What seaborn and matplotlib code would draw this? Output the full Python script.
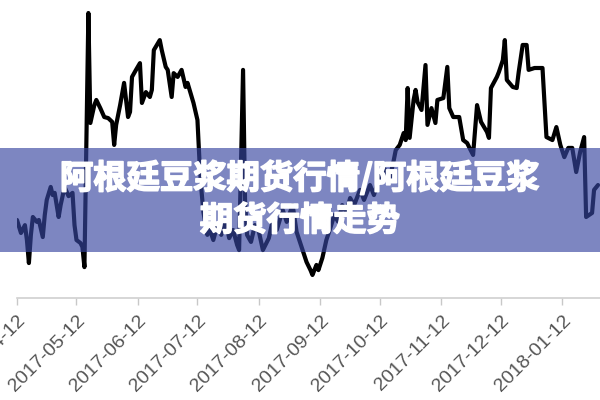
import pandas as pd
import matplotlib
matplotlib.use("Agg")
import matplotlib.pyplot as plt
import matplotlib.dates as mdates
import matplotlib.patches as mpatches
import matplotlib.patheffects as pe
import seaborn as sns

# daily quotes (arbitrary price unit)
dates = [
    "2017-04-12", "2017-04-14", "2017-04-16", "2017-04-17", "2017-04-18", "2017-04-19", "2017-04-20",
    "2017-04-22", "2017-04-23", "2017-04-25", "2017-04-26", "2017-04-27", "2017-04-29", "2017-04-30",
    "2017-05-01", "2017-05-03", "2017-05-04", "2017-05-06", "2017-05-08", "2017-05-10", "2017-05-11",
    "2017-05-12", "2017-05-14", "2017-05-15", "2017-05-16", "2017-05-18", "2017-05-19", "2017-05-21",
    "2017-05-22", "2017-05-24", "2017-05-26", "2017-05-28", "2017-05-30", "2017-05-31",
    "2017-06-01", "2017-06-03", "2017-06-05", "2017-06-07", "2017-06-08", "2017-06-09", "2017-06-11",
    "2017-06-13", "2017-06-14", "2017-06-16", "2017-06-18", "2017-06-19", "2017-06-20", "2017-06-23",
    "2017-06-24", "2017-06-26", "2017-06-27", "2017-06-29", "2017-06-30",
    "2017-07-02", "2017-07-04", "2017-07-06", "2017-07-07", "2017-07-10", "2017-07-12", "2017-07-13",
    "2017-07-14", "2017-07-15", "2017-07-17", "2017-07-18", "2017-07-20", "2017-07-22", "2017-07-24",
    "2017-07-26", "2017-07-28", "2017-07-30",
    "2017-08-01", "2017-08-02", "2017-08-04", "2017-08-05", "2017-08-06", "2017-08-08", "2017-08-10",
    "2017-08-12", "2017-08-14", "2017-08-17", "2017-08-19", "2017-08-21", "2017-08-24", "2017-08-26",
    "2017-08-29", "2017-08-31",
    "2017-09-03", "2017-09-05", "2017-09-07", "2017-09-08", "2017-09-10", "2017-09-11", "2017-09-13",
    "2017-09-15", "2017-09-17", "2017-09-19", "2017-09-21", "2017-09-23", "2017-09-25", "2017-09-27",
    "2017-09-29",
    "2017-10-02", "2017-10-04", "2017-10-07", "2017-10-09", "2017-10-12", "2017-10-14", "2017-10-17",
    "2017-10-19", "2017-10-20", "2017-10-22", "2017-10-24", "2017-10-25", "2017-10-26", "2017-10-27",
    "2017-10-29", "2017-10-30", "2017-10-31",
    "2017-11-02", "2017-11-04", "2017-11-05", "2017-11-07", "2017-11-09", "2017-11-10", "2017-11-13",
    "2017-11-15", "2017-11-16", "2017-11-18", "2017-11-21", "2017-11-23", "2017-11-25", "2017-11-26",
    "2017-11-28", "2017-11-30",
    "2017-12-02", "2017-12-05", "2017-12-06", "2017-12-07", "2017-12-10", "2017-12-11", "2017-12-13",
    "2017-12-14", "2017-12-15", "2017-12-18", "2017-12-20", "2017-12-21", "2017-12-23", "2017-12-25",
    "2017-12-26", "2017-12-29",
    "2018-01-02", "2018-01-04", "2018-01-07", "2018-01-09", "2018-01-11", "2018-01-13", "2018-01-15",
    "2018-01-17", "2018-01-19", "2018-01-21", "2018-01-23", "2018-01-24", "2018-01-27", "2018-01-28",
    "2018-01-30",
]

prices = [
    318.8, 314.0, 316.9, 311.4, 302.9, 313.3, 319.9,
    318.1, 318.8, 312.5, 320.6, 326.2, 331.0, 328.0,
    328.8, 319.9, 324.3, 331.0, 327.6, 328.8, 316.9,
    311.4, 310.3, 308.8, 301.4, 395.2, 354.6, 361.2,
    363.1, 360.1, 356.8, 356.4, 355.0, 346.5,
    353.9, 361.2, 369.4, 356.8, 358.7, 371.6, 374.2,
    376.7, 362.0, 366.0, 364.2, 366.8, 381.5, 385.2,
    381.5, 375.3, 374.2, 364.2, 373.0,
    371.6, 374.2, 367.9, 369.4, 362.0, 355.7, 340.9,
    329.9, 321.7, 313.3, 315.8, 311.4, 316.9, 313.3,
    318.8, 312.1, 315.1,
    309.6, 307.7, 374.2, 326.2, 313.3, 310.7, 316.9,
    314.4, 307.7, 312.1, 318.8, 315.1, 322.5, 318.1,
    324.3, 314.4,
    307.7, 303.3, 300.3, 298.5, 302.2, 300.3, 304.8,
    311.4, 315.8, 320.6, 318.1, 324.3, 321.7, 326.9,
    324.3,
    329.9, 326.2, 331.7, 328.0, 335.4, 338.0, 334.3,
    340.9, 344.6, 346.5, 350.9, 348.3, 367.5, 349.1,
    363.1, 366.8, 362.3,
    359.4, 376.0, 353.9, 360.1, 354.6, 363.1, 363.8,
    375.3, 360.1, 356.8, 356.8, 348.3, 347.2, 345.7,
    342.8, 361.2,
    355.0, 351.3, 349.1, 367.5, 371.6, 373.4, 377.8,
    385.2, 370.5, 367.9, 367.5, 373.4, 383.4, 383.4,
    374.2, 374.9,
    374.9, 349.4, 348.3, 353.1, 346.5, 342.0, 345.4,
    345.4, 336.5, 343.9, 349.4, 319.9, 321.4, 329.9,
    331.7,
]

title_line1 = "阿根廷豆浆期货行情/阿根廷豆浆"
title_line2 = "期货行情走势"

sns.set_style("white")
plt.rcParams["font.family"] = ["Noto Sans CJK SC", "DejaVu Sans"]

df = pd.DataFrame({"date": pd.to_datetime(dates), "price": prices})

fig = plt.figure(figsize=(6, 4), dpi=100)
ax = fig.add_axes([17 / 600, 0.255, 1 - 17 / 600, 0.745])

sns.lineplot(data=df, x="date", y="price", color="black", linewidth=3.0, ax=ax)

ax.set_xlim(pd.Timestamp("2017-04-12"), pd.Timestamp("2018-01-31"))
ax.set_ylim(290, 400)
ax.set_xlabel("")
ax.set_ylabel("")
ax.set_yticks([])

ax.xaxis.set_major_locator(mdates.MonthLocator(bymonthday=12))
ax.xaxis.set_major_formatter(mdates.DateFormatter("%Y-%m-%d"))
ax.tick_params(axis="x", bottom=True, length=5, width=1, color="#c8c8c8",
               pad=5, labelsize=14, labelcolor="#555555")
for lab in ax.get_xticklabels():
    lab.set_rotation(45)
    lab.set_ha("right")
    lab.set_va("top")
    lab.set_rotation_mode("anchor")
    lab.set_family(["Liberation Sans", "DejaVu Sans"])

for side in ["left", "right", "top"]:
    ax.spines[side].set_visible(False)
ax.spines["bottom"].set_color("#d0d0d0")
ax.spines["bottom"].set_linewidth(1.2)

# translucent title banner across the middle
banner = mpatches.Rectangle((0, 0.37), 1, 0.26, transform=fig.transFigure,
                            facecolor=(55 / 255, 70 / 255, 160 / 255), alpha=0.65,
                            edgecolor="none", zorder=5)
fig.add_artist(banner)
heavy = [pe.withStroke(linewidth=1.2, foreground="white")]
fig.text(0.5, 0.555, title_line1, ha="center", va="center", color="white",
         fontsize=24, fontweight="bold", zorder=6, path_effects=heavy)
fig.text(0.5, 0.4475, title_line2, ha="center", va="center", color="white",
         fontsize=24, fontweight="bold", zorder=6, path_effects=heavy)

fig.savefig("out.png", dpi=100)
